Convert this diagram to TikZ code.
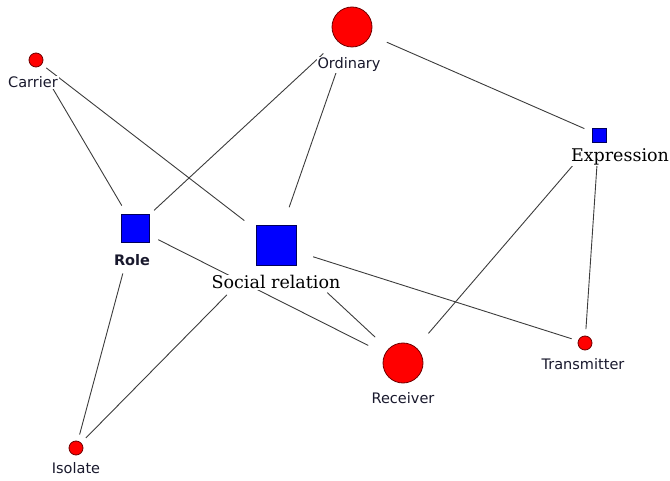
\documentclass[tikz,border=0pt]{standalone}
\usepackage{fontspec}
\usepackage{tikz}
\usetikzlibrary{positioning}

\newfontfamily\sansfont{DejaVu Sans}
\newfontfamily\seriffont{DejaVu Serif}

\definecolor{dotred}{RGB}{255,0,0}
\definecolor{dotrim}{RGB}{110,0,0}
\definecolor{boxblue}{RGB}{0,0,255}
\definecolor{boxrim}{RGB}{0,0,90}
\definecolor{linkgray}{RGB}{60,60,60}
\definecolor{txt}{RGB}{25,25,45}

\tikzset{
  actor/.style={circle,fill=dotred,draw=dotrim,line width=0.8pt,inner sep=0pt},
  bigactor/.style={actor,minimum size=40pt},
  smallactor/.style={actor,minimum size=14pt},
  concept/.style={rectangle,fill=boxblue,draw=boxrim,line width=0.8pt,inner sep=0pt},
  link/.style={draw=linkgray,line width=0.9pt},
  lbl/.style={fill=white,inner sep=1pt,text=txt,font=\sansfont\fontsize{14.5}{16}\selectfont},
  slbl/.style={fill=white,inner sep=1pt,text=black,font=\seriffont\fontsize{17.5}{19}\selectfont}
}

\begin{document}
\begin{tikzpicture}[x=1pt,y=1pt]
	\useasboundingbox (0,0) rectangle (670,480);

	\node[bigactor] (ord) at (352,453) {};
	\node[smallactor] (car) at (36,420) {};
	\node[concept,minimum size=14pt] (expr) at (599,345) {};
	\node[concept,minimum size=28pt] (role) at (135,252) {};
	\node[concept,minimum size=40pt] (soc) at (276,235) {};
	\node[bigactor] (rec) at (403,117) {};
	\node[smallactor] (tra) at (585,137) {};
	\node[smallactor] (iso) at (76,32) {};

	\draw[link,shorten <=38pt,shorten >=16pt] (ord.center) -- (expr.center);
	\draw[link,shorten <=39pt,shorten >=26pt] (ord.center) -- (role.center);
	\draw[link,shorten <=43pt,shorten >=40pt] (ord.center) -- (soc.center);
	\draw[link,shorten <=25pt,shorten >=26pt] (car.center) -- (role.center);
	\draw[link,shorten <=13pt,shorten >=40pt] (car.center) -- (soc.center);
	\draw[link,shorten <=40pt,shorten >=39pt] (expr.center) -- (rec.center);
	\draw[link,shorten <=30pt,shorten >=14pt] (expr.center) -- (tra.center);
	\draw[link,shorten <=26pt,shorten >=39pt] (role.center) -- (rec.center);
	\draw[link,shorten <=47pt,shorten >=14pt] (role.center) -- (iso.center);
	\draw[link,shorten <=39pt,shorten >=14pt] (soc.center) -- (tra.center);
	\draw[link,shorten <=70pt,shorten >=38pt] (soc.center) -- (rec.center);
	\draw[link,shorten <=70pt,shorten >=14pt] (soc.center) -- (iso.center);

	% labels
	\node[lbl,below=9pt of ord,xshift=-3pt] (ordl) {Ordinary};
	\node[lbl,below=8pt of car,xshift=-3pt] (carl) {Carrier};
	\node[slbl,below=5pt of expr,xshift=21pt] (exprl) {Expression};
	\node[lbl,below=11pt of role,xshift=-3pt,font=\sansfont\bfseries\fontsize{14.5}{16}\selectfont] (rolel) {Role};
	\node[slbl,below=9pt of soc] (socl) {Social relation};
	\node[lbl,below=8pt of rec] (recl) {Receiver};
	\node[lbl,below=7pt of tra,xshift=-2pt] (tral) {Transmitter};
	\node[lbl,below=6pt of iso] (isol) {Isolate};
\end{tikzpicture}
\end{document}
